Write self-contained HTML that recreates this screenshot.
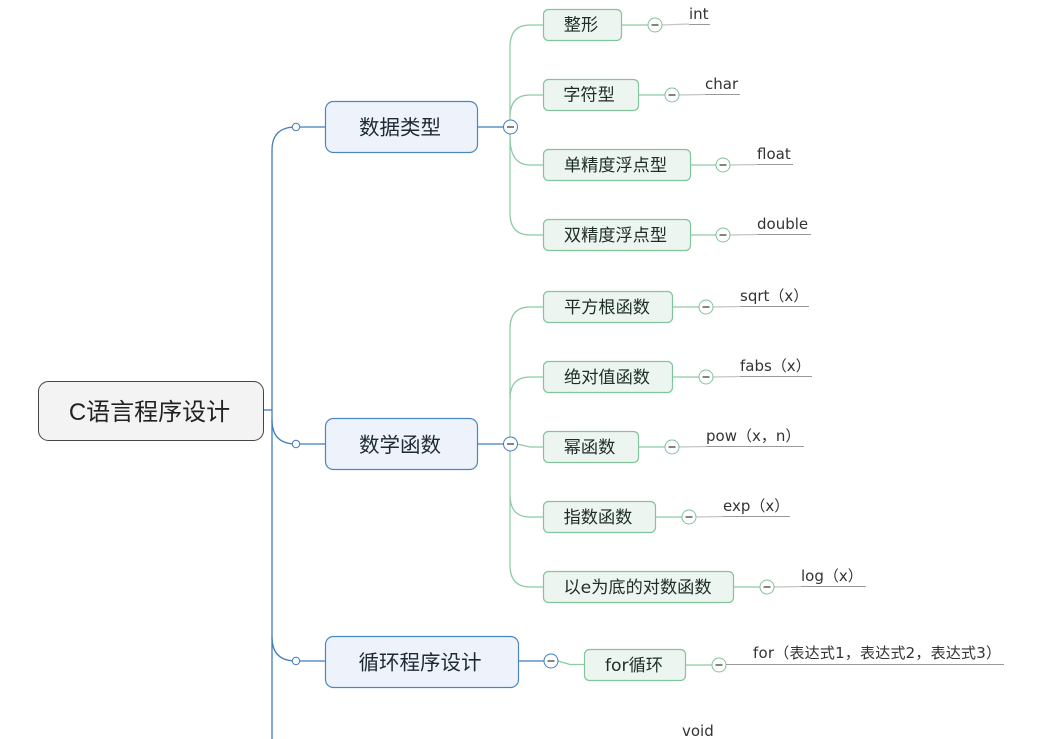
<!DOCTYPE html>
<html lang="zh">
<head>
<meta charset="utf-8">
<title>C语言程序设计</title>
<style>
html,body{margin:0;padding:0;background:#fff;width:1040px;height:739px;overflow:hidden}
svg{display:block}
text{font-family:"Liberation Sans","Noto Sans CJK SC",sans-serif;fill:#222}
.sub{font-family:"DejaVu Sans","Noto Sans CJK SC",sans-serif;font-size:17.2px;text-anchor:middle;fill:#1d2d28}
.main{font-size:20.5px;text-anchor:middle;fill:#1d2a33}
.leaf{font-family:"DejaVu Sans","Noto Sans CJK SC",sans-serif;font-size:15px;fill:#333}
.sb{fill:#edf5f0;stroke:#82c49c;stroke-width:1.2}
.mb{fill:#eef3fb;stroke:#4c86c2;stroke-width:1.2}
.g{fill:none;stroke:#8ccaa4;stroke-width:1.2}
.b{fill:none;stroke:#3f7cbd;stroke-width:1.3}
.lf{fill:none;stroke:#999;stroke-width:1}
.lc{fill:none;stroke:#c4c4c4;stroke-width:1.2}
.cg{fill:#fff;stroke:#7fc39a;stroke-width:1}
.cb{fill:#fff;stroke:#3f7cbd;stroke-width:1}
.m{stroke:#666;stroke-width:1.6;fill:none}
</style>
</head>
<body>
<svg width="1040" height="739" viewBox="0 0 1040 739" xmlns="http://www.w3.org/2000/svg">
<!-- trunk -->
<path class="b" d="M263 410H272"/>
<path class="b" d="M272 739V150Q272 127 296 127"/>
<path class="b" d="M272 420Q272 444 296 444"/>
<path class="b" d="M272 637Q272 661 296 661"/>
<path class="b" d="M300 127H326M300 444H326M300 661H326"/>
<path class="b" d="M477 127H504M477 444H504M518 661H544"/>

<!-- green group 1 -->
<path class="g" d="M544 25H530Q510 25 510 47V213Q510 235 530 235H544"/>
<path class="g" d="M510 117Q510 95 530 95H544"/>
<path class="g" d="M510 137Q510 165 530 165H544"/>
<!-- green group 2 -->
<path class="g" d="M544 307H530Q510 307 510 329V565Q510 587 530 587H544"/>
<path class="g" d="M510 399Q510 377 530 377H544"/>
<path class="g" d="M517 444L530 447H544"/>
<path class="g" d="M510 495Q510 517 530 517H544"/>
<!-- for link -->
<path class="g" d="M558 661L570 664.500H585"/>

<!-- sub to circle links -->
<path class="g" d="M621 25H648M638 95H665M690 165H716M690 235H716M672 307H699M672 377H699M638 447H665M655 517H682M733 587H760M685 665H712"/>

<!-- leaf lines -->
<path class="lc" d="M662 25L689 24M679 95L705 94.500M730 165L757 164.500M730 235L757 234.500M713 307L740 306.500M713 377L740 376.500M679 447L706 446.500M696 517L723 516.500M774 587L801 586.500"/>
<path class="lf" d="M689 24.500H710M705 94.500H740M757 164.500H793M757 234.500H811M740 306.500H809M740 376.500H812M706 446.500H804M723 516.500H790M801 586.500H866M726 664.500H1004"/>

<!-- root -->
<rect x="38.500" y="381.500" width="225" height="59" rx="10" ry="10" fill="#f3f3f3" stroke="#444" stroke-width="1"/>
<text x="149.500" y="420" font-size="24" text-anchor="middle">C语言程序设计</text>

<!-- main -->
<rect class="mb" x="325.500" y="101.500" width="152" height="51" rx="8" ry="8"/>
<text class="main" x="400" y="134.500">数据类型</text>
<rect class="mb" x="325.500" y="418.500" width="152" height="51" rx="8" ry="8"/>
<text class="main" x="400" y="452">数学函数</text>
<rect class="mb" x="325.500" y="636.500" width="193" height="51" rx="8" ry="8"/>
<text class="main" x="420" y="669.500">循环程序设计</text>

<!-- subs -->
<rect class="sb" x="543.500" y="9.500" width="78" height="31" rx="5"/><text class="sub" x="581" y="30.500">整形</text>
<rect class="sb" x="543.500" y="79.500" width="95" height="31" rx="5"/><text class="sub" x="589" y="100.500">字符型</text>
<rect class="sb" x="543.500" y="149.500" width="147" height="31" rx="5"/><text class="sub" x="615.500" y="171">单精度浮点型</text>
<rect class="sb" x="543.500" y="219.500" width="147" height="31" rx="5"/><text class="sub" x="615.500" y="241">双精度浮点型</text>
<rect class="sb" x="543.500" y="291.500" width="129" height="31" rx="5"/><text class="sub" x="607" y="313">平方根函数</text>
<rect class="sb" x="543.500" y="361.500" width="129" height="31" rx="5"/><text class="sub" x="607" y="383">绝对值函数</text>
<rect class="sb" x="543.500" y="431.500" width="95" height="31" rx="5"/><text class="sub" x="589.500" y="453">幂函数</text>
<rect class="sb" x="543.500" y="501.500" width="112" height="31" rx="5"/><text class="sub" x="598" y="523">指数函数</text>
<rect class="sb" x="543.500" y="571.500" width="190" height="31" rx="5"/><text class="sub" x="637.500" y="593">以e为底的对数函数</text>
<rect class="sb" x="584.500" y="649.500" width="101" height="31" rx="5"/><text class="sub" x="634" y="671">for循环</text>

<!-- leaf text -->
<text class="leaf" x="689" y="19">int</text>
<text class="leaf" x="705" y="89">char</text>
<text class="leaf" x="757" y="159">float</text>
<text class="leaf" x="757" y="229">double</text>
<text class="leaf" x="740" y="301">sqrt（x）</text>
<text class="leaf" x="740" y="371">fabs（x）</text>
<text class="leaf" x="706" y="441">pow（x，n）</text>
<text class="leaf" x="723" y="511">exp（x）</text>
<text class="leaf" x="801" y="581">log（x）</text>
<text class="leaf" x="753" y="658" textLength="248">for（表达式1，表达式2，表达式3）</text>
<text class="leaf" x="682" y="736">void</text>

<!-- small open circles -->
<circle class="cb" cx="296" cy="127" r="3.700"/>
<circle class="cb" cx="296" cy="444" r="3.700"/>
<circle class="cb" cx="296" cy="661" r="3.700"/>

<!-- blue minus -->
<g>
<circle class="cb" cx="510.500" cy="127" r="7"/><path class="m" d="M507 127H514"/>
<circle class="cb" cx="510.500" cy="444" r="7"/><path class="m" d="M507 444H514"/>
<circle class="cb" cx="551" cy="661" r="7"/><path class="m" d="M547.500 661H554.500"/>
</g>
<!-- green minus -->
<g>
<circle class="cg" cx="655" cy="25" r="7"/><path class="m" d="M651.500 25H658.500"/>
<circle class="cg" cx="672" cy="95" r="7"/><path class="m" d="M668.500 95H675.500"/>
<circle class="cg" cx="723" cy="165" r="7"/><path class="m" d="M719.500 165H726.500"/>
<circle class="cg" cx="723" cy="235" r="7"/><path class="m" d="M719.500 235H726.500"/>
<circle class="cg" cx="706" cy="307" r="7"/><path class="m" d="M702.500 307H709.500"/>
<circle class="cg" cx="706" cy="377" r="7"/><path class="m" d="M702.500 377H709.500"/>
<circle class="cg" cx="672" cy="447" r="7"/><path class="m" d="M668.500 447H675.500"/>
<circle class="cg" cx="689" cy="517" r="7"/><path class="m" d="M685.500 517H692.500"/>
<circle class="cg" cx="767" cy="587" r="7"/><path class="m" d="M763.500 587H770.500"/>
<circle class="cg" cx="719" cy="665" r="7"/><path class="m" d="M715.500 665H722.500"/>
</g>
</svg>
</body>
</html>
